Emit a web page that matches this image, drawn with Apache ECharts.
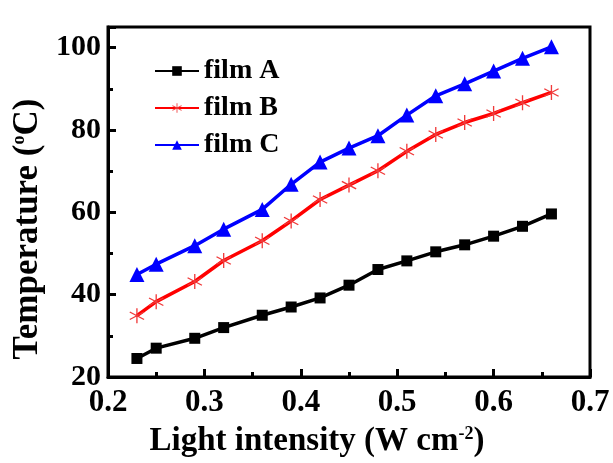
<!DOCTYPE html>
<html>
<head>
<meta charset="utf-8">
<script src="https://cdn.jsdelivr.net/npm/echarts@6/dist/echarts.min.js"></script>
<style>
  html, body { margin: 0; padding: 0; background: #fff; }
  #grafico { width: 613px; height: 463px; }
</style>
</head>
<body>
<div id="grafico"></div>
<script>
// datos
const intensidad = [0.23, 0.25, 0.29, 0.32, 0.36, 0.39, 0.42, 0.45, 0.48, 0.51, 0.54, 0.57, 0.60, 0.63, 0.66];
const filmA = [24.5, 27.0, 29.4, 32.0, 35.0, 37.0, 39.2, 42.3, 46.1, 48.2, 50.4, 52.1, 54.2, 56.6, 59.6];
const filmB = [34.9, 38.3, 43.2, 48.3, 53.1, 57.9, 63.1, 66.6, 70.1, 74.8, 78.9, 81.8, 84.0, 86.6, 89.1];
const filmC = [44.9, 47.4, 51.9, 55.9, 60.7, 66.8, 72.2, 75.6, 78.6, 83.6, 88.3, 91.2, 94.3, 97.4, 100.2];
const nombres = ['film A', 'film B', 'film C'];

const fuente = 'Liberation Serif';
const asterisco = 'path://M-0.8,-10L0.8,-10L0.8,10L-0.8,10Z' +
  'M9.06,-4.31L-8.26,5.69L-9.06,4.31L8.26,-5.69Z' +
  'M8.26,5.69L-9.06,-4.31L-8.26,-5.69L9.06,4.31Z';

function pares(ys) {
  return intensidad.map((x, i) => [x, ys[i]]);
}

document.addEventListener('DOMContentLoaded', function () {
  const chart = echarts.init(document.getElementById('grafico'));

  const sup = { fontFamily: fuente, fontWeight: 'bold', fontSize: 18, verticalAlign: 'top', color: '#000' };

  const opciones = {
    backgroundColor: '#fff',
    animation: false,
    textStyle: { fontFamily: fuente },
    grid: {
      left: 108, right: 23, top: 27, bottom: 81,
      show: true, borderColor: '#000', borderWidth: 3
    },
    legend: {
      orient: 'vertical',
      left: 149, top: 52,
      itemWidth: 44, itemHeight: 12, itemGap: 9,
      textStyle: { fontFamily: fuente, fontWeight: 'bold', fontSize: 28, color: '#000' },
      data: nombres
    },
    xAxis: {
      type: 'value',
      min: 0.2, max: 0.7, interval: 0.1,
      name: 'Light intensity (W cm{s|-2})',
      nameLocation: 'middle',
      nameGap: 48,
      nameTextStyle: {
        fontFamily: fuente, fontWeight: 'bold', fontSize: 33, color: '#000',
        padding: [0, 64, 0, 0],
        rich: { s: sup }
      },
      axisLine: { lineStyle: { color: '#000', width: 3 } },
      axisTick: { inside: true, length: 8, lineStyle: { color: '#000', width: 3 } },
      minorTick: { show: true, splitNumber: 2, length: 5, lineStyle: { color: '#000', width: 3 } },
      splitLine: { show: false },
      axisLabel: {
        margin: 10,
        fontFamily: fuente, fontWeight: 'bold', fontSize: 31, color: '#000',
        formatter: v => v.toFixed(1)
      }
    },
    yAxis: {
      type: 'value',
      min: 20, max: 105, interval: 20,
      name: 'Temperature ({s|o}C)',
      nameLocation: 'middle',
      nameRotate: 90,
      nameGap: 62,
      nameTextStyle: {
        fontFamily: fuente, fontWeight: 'bold', fontSize: 35, color: '#000',
        padding: [0, 54, 0, 0],
        rich: { s: sup }
      },
      axisLine: { lineStyle: { color: '#000', width: 3 } },
      axisTick: { inside: true, length: 8, lineStyle: { color: '#000', width: 3 } },
      minorTick: { show: true, splitNumber: 2, length: 5, lineStyle: { color: '#000', width: 3 } },
      splitLine: { show: false },
      axisLabel: {
        margin: 7,
        fontFamily: fuente, fontWeight: 'bold', fontSize: 30, color: '#000',
        formatter: v => (v % 20 === 0 ? String(v) : '')
      }
    },
    series: [
      {
        name: nombres[0], type: 'line', data: pares(filmA),
        symbol: 'rect', symbolSize: 11,
        lineStyle: { color: '#000', width: 3.5 },
        itemStyle: { color: '#000' }
      },
      {
        name: nombres[1], type: 'line', data: pares(filmB),
        symbol: asterisco, symbolSize: 15,
        lineStyle: { color: '#ff0000', width: 3.5 },
        itemStyle: { color: '#f03a3a' }
      },
      {
        name: nombres[2], type: 'line', data: pares(filmC),
        symbol: 'triangle', symbolSize: 15,
        lineStyle: { color: '#0000ff', width: 3.5 },
        itemStyle: { color: '#0000ff' }
      }
    ]
  };

  chart.setOption(opciones);
});
</script>
</body>
</html>
